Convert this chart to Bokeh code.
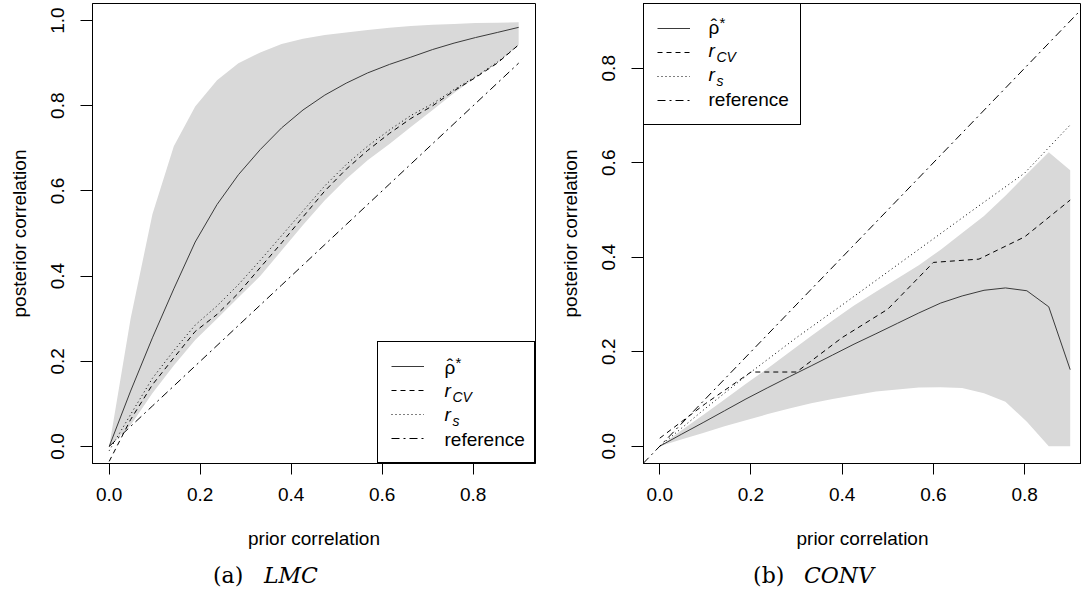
from bokeh.plotting import figure
from bokeh.models import (Range1d, FixedTicker, PrintfTickFormatter, Legend,
                          LegendItem, Label, Slope)
from bokeh.layouts import row, column
from bokeh.core.properties import value
from bokeh.embed import file_html
from bokeh.resources import INLINE

# ---------------- data ----------------
prior_grid = [0.0, 0.047, 0.095, 0.142, 0.189, 0.237, 0.284, 0.332, 0.379, 0.426,
              0.474, 0.521, 0.568, 0.616, 0.663, 0.711, 0.758, 0.805, 0.853, 0.9]
prior_coarse = [0.0, 0.1, 0.2, 0.3, 0.4, 0.5, 0.6, 0.7, 0.8, 0.9]

# (a) LMC
lmc_band_upper = [0.0, 0.30, 0.545, 0.705, 0.798, 0.860, 0.900, 0.925, 0.945, 0.957,
                  0.966, 0.972, 0.978, 0.983, 0.987, 0.990, 0.992, 0.994, 0.995, 0.996]
lmc_band_lower = [0.0, 0.05, 0.125, 0.19, 0.25, 0.30, 0.35, 0.40, 0.46, 0.52,
                  0.578, 0.628, 0.672, 0.71, 0.75, 0.79, 0.83, 0.866, 0.9, 0.943]
lmc_rho_star = [0.0, 0.13, 0.255, 0.37, 0.48, 0.568, 0.638, 0.697, 0.748, 0.79,
                0.825, 0.853, 0.877, 0.897, 0.914, 0.932, 0.947, 0.96, 0.972, 0.984]
lmc_r_cv = [-0.035, 0.063, 0.145, 0.208, 0.27, 0.31, 0.36, 0.42, 0.478, 0.539,
            0.60, 0.651, 0.695, 0.735, 0.77, 0.80, 0.835, 0.866, 0.9, 0.943]
lmc_r_s = [-0.01, 0.075, 0.16, 0.225, 0.285, 0.33, 0.38, 0.437, 0.495, 0.553,
           0.612, 0.662, 0.705, 0.743, 0.777, 0.805, 0.838, 0.868, 0.902, 0.943]
lmc_reference = [0.0, 0.047, 0.095, 0.142, 0.189, 0.237, 0.284, 0.332, 0.379, 0.426,
                 0.474, 0.521, 0.568, 0.616, 0.663, 0.711, 0.758, 0.805, 0.853, 0.9]

# (b) CONV
conv_band_upper = [0.0, 0.033, 0.066, 0.099, 0.132, 0.165, 0.199, 0.233, 0.266, 0.298,
                   0.327, 0.355, 0.383, 0.416, 0.451, 0.487, 0.53, 0.576, 0.622, 0.584]
conv_band_lower = [0.0, 0.014, 0.028, 0.042, 0.055, 0.068, 0.08, 0.091, 0.1, 0.108,
                   0.116, 0.12, 0.124, 0.125, 0.123, 0.112, 0.094, 0.052, 0.0, 0.0]
conv_rho_star = [0.0, 0.025, 0.05, 0.075, 0.1, 0.124, 0.147, 0.17, 0.193, 0.216,
                 0.238, 0.26, 0.282, 0.303, 0.318, 0.33, 0.335, 0.329, 0.295, 0.162]
conv_r_cv = [0.017, 0.09, 0.157, 0.157, 0.23, 0.29, 0.389, 0.396, 0.443, 0.521]
conv_r_s = [0.0, 0.08, 0.157, 0.23, 0.299, 0.369, 0.439, 0.509, 0.578, 0.68]
conv_reference = [0.0, 0.1, 0.2, 0.3, 0.4, 0.5, 0.6, 0.7, 0.8, 0.9]
conv_reference_slope = 1.0

x_ticks = [0.0, 0.2, 0.4, 0.6, 0.8]
lmc_y_ticks = [0.0, 0.2, 0.4, 0.6, 0.8, 1.0]
conv_y_ticks = [0.0, 0.2, 0.4, 0.6, 0.8]

x_title = "prior correlation"
y_title = "posterior correlation"
legend_main = ["ρ", "r", "r", "reference"]
legend_extra = ["*", "CV", "s", ""]
captions = [("(a)", "LMC"), ("(b)", "CONV")]

# ---------------- style ----------------
SANS = "Liberation Sans"
SERIF = "DejaVu Serif"
BAND = "#d9d9d9"
FS = "19px"
RHO_COLOR = "#3a3a3a"
DASH_CV = "5 4"
DASH_S = "1 3"
DASH_REF = "8 4 2 4"

LEG_PAD, GLYPH_W, STANDOFF, LABEL_W, ITEM_H, SPACING = 13, 33, 19, 78, 22, 2
LEG_W = 2 * LEG_PAD + GLYPH_W + STANDOFF + LABEL_W
LEG_H = 2 * LEG_PAD + 4 * ITEM_H + 3 * SPACING


def make_panel(fw, fh, bl, br, xr, yr, yticks):
    p = figure(frame_width=fw, frame_height=fh, min_border_left=bl,
               min_border_right=br, min_border_top=3, min_border_bottom=87,
               x_range=Range1d(*xr), y_range=Range1d(*yr),
               output_backend="svg", toolbar_location=None,
               background_fill_color="white", border_fill_color="white")
    p.grid.visible = False
    p.outline_line_color = "black"
    p.outline_line_width = 1
    p.outline_line_alpha = 1
    for ax in (p.xaxis[0], p.yaxis[0]):
        ax.axis_line_color = "black"
        ax.major_tick_line_color = "black"
        ax.minor_tick_line_color = None
        ax.major_tick_in = 0
        ax.major_label_text_font = SANS
        ax.major_label_text_font_size = FS
        ax.major_label_text_color = "black"
        ax.axis_label_text_font = SANS
        ax.axis_label_text_font_size = FS
        ax.axis_label_text_font_style = "normal"
        ax.axis_label_text_color = "black"
        ax.formatter = PrintfTickFormatter(format="%.1f")
    p.xaxis[0].ticker = FixedTicker(ticks=x_ticks)
    p.yaxis[0].ticker = FixedTicker(ticks=yticks)
    p.xaxis[0].major_tick_out = 11
    p.yaxis[0].major_tick_out = 12
    p.xaxis[0].major_label_standoff = 13
    p.yaxis[0].major_label_standoff = 16
    p.xaxis[0].axis_label = x_title
    p.yaxis[0].axis_label = y_title
    p.xaxis[0].axis_label_standoff = 24
    p.yaxis[0].axis_label_standoff = 19
    p.yaxis[0].major_label_orientation = "vertical"
    return p


def make_caption(width, caption, cap_x):
    c = figure(frame_width=width, frame_height=43, min_border=0,
               x_range=Range1d(0, width), y_range=Range1d(0, 43),
               x_axis_location=None, y_axis_location=None,
               output_backend="svg", toolbar_location=None,
               background_fill_color="white", border_fill_color="white")
    c.grid.visible = False
    c.outline_line_color = None
    a, b = caption
    c.add_layout(Label(x=cap_x[0], y=19, x_units="screen", y_units="screen",
                       text=a, text_font=SERIF, text_font_size="22px",
                       text_align="right", text_baseline="middle", text_color="black"))
    c.add_layout(Label(x=cap_x[1], y=19, x_units="screen", y_units="screen",
                       text=b, text_font=SERIF, text_font_size="22px",
                       text_font_style="italic",
                       text_align="left", text_baseline="middle", text_color="black"))
    return c


def add_legend(p, renderers, location, left, top):
    items = [LegendItem(label=value(" "), renderers=[r]) for r in renderers]
    leg = Legend(items=items, location=location, margin=0, padding=LEG_PAD,
                 glyph_width=GLYPH_W, glyph_height=ITEM_H, label_height=ITEM_H,
                 label_width=LABEL_W, label_standoff=STANDOFF, spacing=SPACING,
                 label_text_font=SANS, label_text_font_size="17px",
                 border_line_color="black", border_line_width=1, border_line_alpha=1,
                 background_fill_color="white", background_fill_alpha=0)
    p.add_layout(leg)
    tx = left + LEG_PAD + GLYPH_W + STANDOFF
    for i in range(4):
        yc = top - LEG_PAD - ITEM_H / 2 - i * (ITEM_H + SPACING)
        main = legend_main[i]
        extra = legend_extra[i]
        italic = i in (1, 2)
        p.add_layout(Label(x=tx, y=yc + (1 if italic else 0), x_units="screen", y_units="screen",
                           text=main, text_font=SANS, text_font_size=FS,
                           text_font_style="italic" if italic else "normal",
                           text_baseline="middle", text_align="left", text_color="black",
                           level="overlay"))
        if i == 0:
            # hat over rho
            p.add_layout(Label(x=tx + 5.5, y=yc + 2, x_units="screen", y_units="screen",
                               text="ˆ", text_font=SANS, text_font_size=FS,
                               text_baseline="middle", text_align="center", text_color="black",
                               level="overlay"))
            p.add_layout(Label(x=tx + 11, y=yc + 5, x_units="screen", y_units="screen",
                               text=extra, text_font=SANS, text_font_size="15px",
                               text_baseline="middle", text_align="left", text_color="black",
                               level="overlay"))
        elif extra:
            p.add_layout(Label(x=tx + 8, y=yc - 5, x_units="screen", y_units="screen",
                               text=extra, text_font=SANS, text_font_size="14px",
                               text_font_style="italic",
                               text_baseline="middle", text_align="left", text_color="black",
                               level="overlay"))


# ---------------- (a) LMC ----------------
FW1, FH = 443, 460
p1 = make_panel(FW1, FH, 92, 5, (-0.0367, 0.937), (-0.04, 1.04), lmc_y_ticks)
p1.varea(x=prior_grid, y1=lmc_band_lower, y2=lmc_band_upper, fill_color=BAND)
r1 = p1.line(prior_grid, lmc_rho_star, line_color=RHO_COLOR, line_width=1)
r2 = p1.line(prior_grid, lmc_r_cv, line_color="black", line_width=1, line_dash=DASH_CV)
r3 = p1.line(prior_grid, lmc_r_s, line_color="black", line_width=1, line_dash=DASH_S)
r4 = p1.line(prior_grid, lmc_reference, line_color="black", line_width=1, line_dash=DASH_REF)
add_legend(p1, [r1, r2, r3, r4], "bottom_right", FW1 - LEG_W, LEG_H)

# ---------------- (b) CONV ----------------
FW2 = 438
p2 = make_panel(FW2, FH, 103, 0, (-0.0357, 0.9248), (-0.0366, 0.937), conv_y_ticks)
p2.varea(x=prior_grid, y1=conv_band_lower, y2=conv_band_upper, fill_color=BAND)
s1 = p2.line(prior_grid, conv_rho_star, line_color=RHO_COLOR, line_width=1)
s2 = p2.line(prior_coarse, conv_r_cv, line_color="black", line_width=1, line_dash=DASH_CV)
s3 = p2.line(prior_coarse, conv_r_s, line_color="black", line_width=1, line_dash=DASH_S)
slope = Slope(gradient=conv_reference_slope, y_intercept=0, line_color="black",
              line_width=1, line_dash=DASH_REF)
p2.add_layout(slope)
# legend key for the reference line (the line itself is drawn by the Slope above)
s4 = p2.line(prior_coarse, conv_reference, line_color="black", line_width=1,
             line_dash=DASH_REF, visible=False)
add_legend(p2, [s1, s2, s3, s4], "top_left", 0, FH)

c1 = make_caption(540, captions[0], (242.8, 263.4))
c2 = make_caption(541, captions[1], (243.8, 263.4))

layout = column(row(p1, p2), row(c1, c2))
open("out.html", "w").write(file_html(layout, INLINE))
